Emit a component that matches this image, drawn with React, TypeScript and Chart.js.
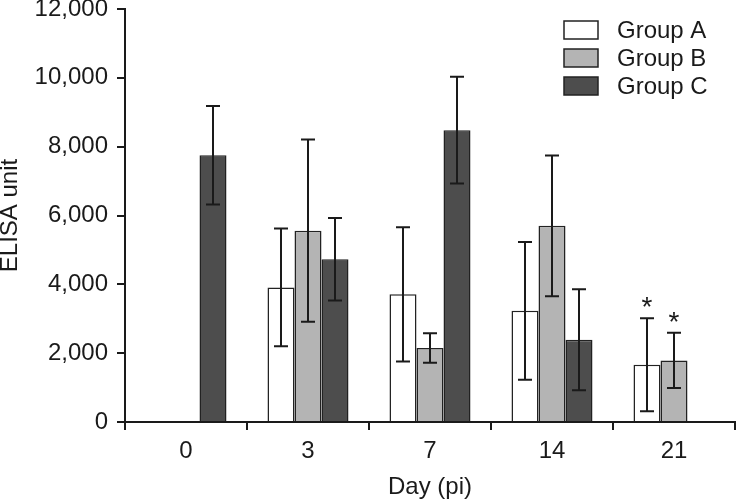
import React, { useEffect, useRef } from "react";
import { Chart, registerables } from "chart.js";
Chart.register(...registerables);

const categories = ["0", "3", "7", "14", "21"];
const seriesNames = ["Group A", "Group B", "Group C"];
const groupA = [null, 3910, 3710, 3230, 1665];
const groupB = [null, 5560, 2150, 5700, 1790];
const groupC = [7750, 4730, 8480, 2390, null];
const errA = [null, 1710, 1950, 2000, 1350];
const errB = [null, 2650, 430, 2045, 800];
const errC = [1430, 1200, 1550, 1470, null];
const sigA = [false, false, false, false, true];
const sigB = [false, false, false, false, true];
const sigC = [false, false, false, false, false];
const yMin = 0;
const yMax = 12000;
const yStep = 2000;

const fills = ["#ffffff", "#b4b4b4", "#4d4d4d"];
const FONT = "Liberation Sans, Arial, sans-serif";
const INK = "#1a1a1a";
const FS = 24;

const errorBarPlugin = {
  id: "errorBars",
  afterDatasetsDraw(chart: any) {
    const ctx = chart.ctx;
    const yScale = chart.scales.y;
    const errs = [errA, errB, errC];
    const sigs = [sigA, sigB, sigC];
    chart.data.datasets.forEach((ds: any, i: number) => {
      const meta = chart.getDatasetMeta(i);
      meta.data.forEach((el: any, j: number) => {
        const v = ds.data[j];
        const e = errs[i][j];
        if (v == null || e == null) return;
        const x = el.x;
        const yt = yScale.getPixelForValue(v + e);
        const yb = yScale.getPixelForValue(v - e);
        ctx.save();
        ctx.strokeStyle = INK;
        ctx.lineWidth = 2;
        ctx.beginPath();
        ctx.moveTo(x, yt);
        ctx.lineTo(x, yb);
        ctx.moveTo(x - 7, yt);
        ctx.lineTo(x + 7, yt);
        ctx.moveTo(x - 7, yb);
        ctx.lineTo(x + 7, yb);
        ctx.stroke();
        if (sigs[i][j]) {
          ctx.fillStyle = INK;
          ctx.font = `28px ${FONT}`;
          ctx.textAlign = "center";
          ctx.textBaseline = "middle";
          ctx.fillText("*", x, yt - 10);
        }
        ctx.restore();
      });
    });
  },
};

const legendPlugin = {
  id: "customLegend",
  afterDraw(chart: any) {
    const ctx = chart.ctx;
    ctx.save();
    seriesNames.forEach((name, i) => {
      const cy = 30 + i * 28;
      ctx.fillStyle = fills[i];
      ctx.fillRect(564, cy - 9, 34, 18);
      ctx.strokeStyle = "#222";
      ctx.lineWidth = 1.5;
      ctx.strokeRect(564, cy - 9, 34, 18);
      ctx.fillStyle = INK;
      ctx.font = `${FS}px ${FONT}`;
      ctx.textAlign = "left";
      ctx.textBaseline = "middle";
      ctx.fillText(name, 617, cy + 1);
    });
    ctx.restore();
  },
};

export default function App() {
  const ref = useRef<HTMLCanvasElement>(null);
  useEffect(() => {
    document.body.style.margin = "0";
    const chart = new Chart(ref.current!, {
      type: "bar",
      data: {
        labels: categories,
        datasets: [
          { label: seriesNames[0], data: groupA, backgroundColor: fills[0] },
          { label: seriesNames[1], data: groupB, backgroundColor: fills[1] },
          { label: seriesNames[2], data: groupC, backgroundColor: fills[2] },
        ].map((d) => ({
          ...d,
          borderColor: "#222",
          borderWidth: 1.5,
          categoryPercentage: 0.664,
          barPercentage: 1,
        })) as any,
      },
      options: {
        animation: false,
        responsive: false,
        layout: { padding: { top: 9, right: 1, left: 0, bottom: 0 } },
        plugins: { legend: { display: false }, tooltip: { enabled: false } },
        scales: {
          x: {
            grid: {
              offset: true,
              drawOnChartArea: false,
              drawTicks: true,
              tickLength: 8,
              color: INK,
              lineWidth: 2,
            },
            border: { display: true, color: INK, width: 2 },
            ticks: { color: INK, font: { family: FONT, size: FS }, padding: 7 },
            title: {
              display: true,
              text: "Day (pi)",
              color: INK,
              font: { family: FONT, size: FS },
              padding: { top: 2, bottom: 0 },
            },
            afterFit(scale: any) {
              scale.height = 80;
              scale.paddingLeft = 0;
              scale.paddingRight = 0;
            },
          },
          y: {
            min: yMin,
            max: yMax,
            grid: {
              drawOnChartArea: false,
              drawTicks: true,
              tickLength: 8,
              color: INK,
              lineWidth: 2,
            },
            border: { display: true, color: INK, width: 2 },
            ticks: {
              stepSize: yStep,
              color: INK,
              padding: 9,
              font: { family: FONT, size: FS },
              callback: (v: any) => Number(v).toLocaleString("en-US"),
            },
            title: {
              display: true,
              text: "ELISA unit",
              color: INK,
              font: { family: FONT, size: FS },
              padding: { top: -4, bottom: 0 },
            },
            afterFit(scale: any) {
              scale.width = 125;
              scale.paddingTop = 0;
              scale.paddingBottom = 0;
            },
          },
        },
      },
      plugins: [errorBarPlugin, legendPlugin],
    });
    return () => chart.destroy();
  }, []);
  return (
    <div style={{ width: 736, height: 502 }}>
      <canvas ref={ref} width={736} height={502} />
    </div>
  );
}
